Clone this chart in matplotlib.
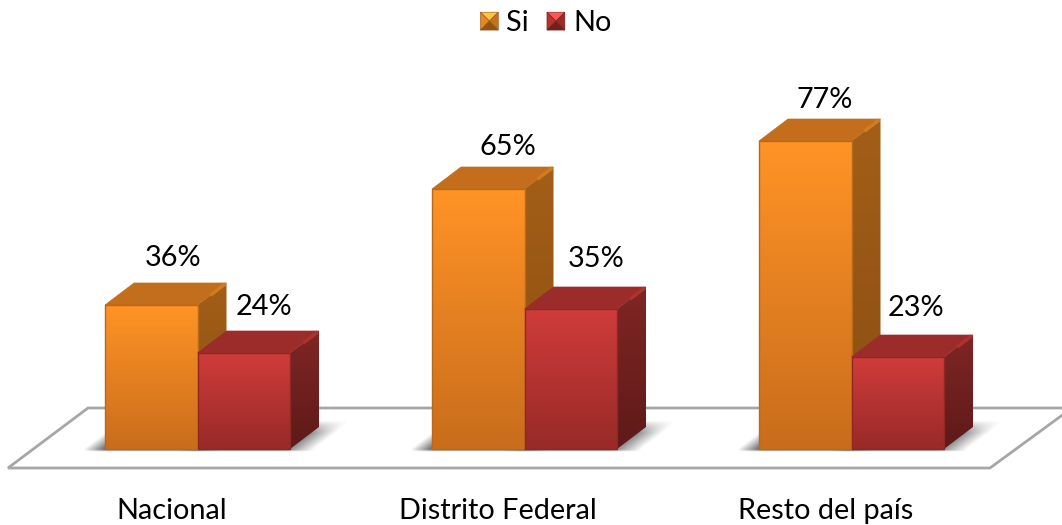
#!/usr/bin/python3
import numpy as np
from matplotlib import pyplot as plt
from matplotlib.colors import LinearSegmentedColormap, to_rgb
from matplotlib.legend_handler import HandlerBase
from matplotlib.patches import Patch, Polygon

categories = ['Nacional', 'Distrito Federal', 'Resto del país']
si = [36, 65, 77]
no = [24, 35, 23]

W, H = 1062, 525
PX_X = 327.0            # pixels per category
PX_Y = 4.0              # pixels per percent
X0 = 197.5 / PX_X       # first category sits here
Y0 = (525 - 449) / PX_Y # zero line
BAR = 92.5 / PX_X
DX = 29 / PX_X
DY = 22 / PX_Y

# the value labels are not placed evenly in the original, offsets from the bar corner in pixels
si_lab_dx = [68, 76, 66]
si_lab_dy = [47, 42, 41]
no_lab_dx = [66, 72, 64]
no_lab_dy = [46, 50, 49]

ORANGE = dict(top='#c26e1c', top2='#d07c20', side=('#a35f18', '#8a4d12'),
              front=('#ff9326', '#c96d1c'), edge='#b8691a')
RED = dict(top='#9c2c2a', top2='#ad3230', side=('#7f2624', '#5e1a19'),
           front=('#cf3c3a', '#982a28'), edge='#8f2725')

plt.rcParams['font.family'] = ['Lato', 'DejaVu Sans']


def gradient(ax, poly, c_top, c_bot, z):
    xs = [p[0] for p in poly]
    ys = [p[1] for p in poly]
    cmap = LinearSegmentedColormap.from_list('g', [c_bot, c_top])
    im = ax.imshow(np.linspace(1, 0, 64).reshape(-1, 1), cmap=cmap, aspect='auto',
                   extent=(min(xs), max(xs), min(ys), max(ys)), zorder=z,
                   interpolation='bilinear')
    clip = Polygon(poly, closed=True, transform=ax.transData, fc='none', ec='none')
    ax.add_patch(clip)
    im.set_clip_path(clip)


def shadow(ax, x, z):
    # soft grey patch that leans back with the floor, strongest next to the bar
    left = x - 22 / PX_X
    right = x + BAR + DX + 26 / PX_X
    top = DY * 1.3
    bottom = -0.7
    nx, ny = 90, 40
    u = np.linspace(left, right, nx)
    v = np.linspace(top, bottom, ny)
    uu, vv = np.meshgrid(u, v)
    lean = np.clip(vv, 0, None) / DY * DX
    a_right = np.clip((x + BAR + lean + 24 / PX_X - uu) / (30 / PX_X), 0, 1)
    a_left = np.clip((uu - left - lean) / (20 / PX_X), 0, 1)
    a_up = np.clip((top - vv) / (top * 0.45), 0, 1)
    a_low = np.clip((vv - bottom) / 0.5, 0, 1)
    img = np.zeros((ny, nx, 4))
    img[..., :3] = to_rgb('#5a5a5a')
    img[..., 3] = 0.85 * a_right * a_left * a_up * a_low
    ax.imshow(img, aspect='auto', zorder=z, interpolation='bilinear',
              extent=(left, right, bottom, top))


def bar3d(ax, x, val, st, z):
    front = [(x, 0), (x + BAR, 0), (x + BAR, val), (x, val)]
    side = [(x + BAR, 0), (x + BAR + DX, DY), (x + BAR + DX, val + DY), (x + BAR, val)]
    top = [(x, val), (x + BAR, val), (x + BAR + DX, val + DY), (x + DX, val + DY)]
    gradient(ax, side, st['side'][0], st['side'][1], z)
    gradient(ax, front, st['front'][0], st['front'][1], z + 0.2)
    ax.add_patch(Polygon(top, closed=True, fc=st['top'], ec=st['top'], lw=0.5, zorder=z + 0.1))
    ax.add_patch(Polygon(front, closed=True, fc='none', ec=st['edge'], lw=1.0, zorder=z + 0.3,
                         joinstyle='round'))
    # lit edge on the lid, only towards the back corner
    ax.plot([x + BAR + 0.45 * DX, x + BAR + 0.96 * DX], [val + 0.45 * DY, val + 0.96 * DY],
            color=st['top2'], lw=2.5, zorder=z + 0.15, solid_capstyle='butt')


class BevelHandler(HandlerBase):
    def create_artists(self, legend, orig, xd, yd, width, height, fontsize, trans):
        c = orig.get_facecolor()
        size = width
        x0 = -xd
        y0 = -yd + (height - size) / 2
        l, r, b, t = x0, x0 + size, y0, y0 + size
        mx, my = (l + r) / 2, y0 + size * 0.5
        lit = tuple(min(1, v * 1.25 + 0.1) for v in c[:3])
        dark = tuple(v * 0.62 for v in c[:3])
        mid = tuple(v * 0.85 for v in c[:3])
        faces = [([(l, t), (r, t), (mx, my)], lit),
                 ([(l, t), (l, b), (mx, my)], c),
                 ([(r, t), (r, b), (mx, my)], mid),
                 ([(l, b), (r, b), (mx, my)], dark)]
        return [Polygon(p, closed=True, fc=fc, ec=dark, lw=0.4, transform=trans) for p, fc in faces]


fig = plt.figure(figsize=(W / 100, H / 100), dpi=100)
ax = fig.add_axes([0, 0, 1, 1])

floor_x = [8 / PX_X, 88 / PX_X, 1072 / PX_X, 990 / PX_X]
floor_y = [-19 / PX_Y, 41 / PX_Y, 41 / PX_Y, -19 / PX_Y]
ax.add_patch(Polygon(list(zip(floor_x, floor_y)), closed=True, fc='white', ec='#a6a6a6', lw=2.0,
                     zorder=1))

for i, name in enumerate(categories):
    cx = X0 + i
    shadow(ax, cx - BAR, 2)
    shadow(ax, cx, 2)
    bar3d(ax, cx - BAR, si[i], ORANGE, 3)
    bar3d(ax, cx, no[i], RED, 4)
    ax.text(cx - BAR + si_lab_dx[i] / PX_X, si[i] + si_lab_dy[i] / PX_Y, '%d%%' % si[i], ha='center',
            va='center', fontsize=20.8, color='black', zorder=6)
    ax.text(cx + no_lab_dx[i] / PX_X, no[i] + no_lab_dy[i] / PX_Y, '%d%%' % no[i], ha='center',
            va='center', fontsize=20.8, color='black', zorder=6)
    ax.text(cx - 0.08, -15.5, name, ha='center', va='center', fontsize=20.8, color='black')

ax.set_xlim(0, W / PX_X)
ax.set_ylim(-Y0, (H / PX_Y) - Y0)
ax.axis('off')

handles = [Patch(facecolor='#e8861f', label='Si'), Patch(facecolor='#b8322f', label='No')]
ax.legend(handles=handles, loc='upper center', bbox_to_anchor=(0.514, 1.03), ncol=2, frameon=False,
          fontsize=20.8, handlelength=0.62, handletextpad=0.28, columnspacing=0.62,
          handler_map={Patch: BevelHandler()})

fig.savefig('out.png', dpi=100)
